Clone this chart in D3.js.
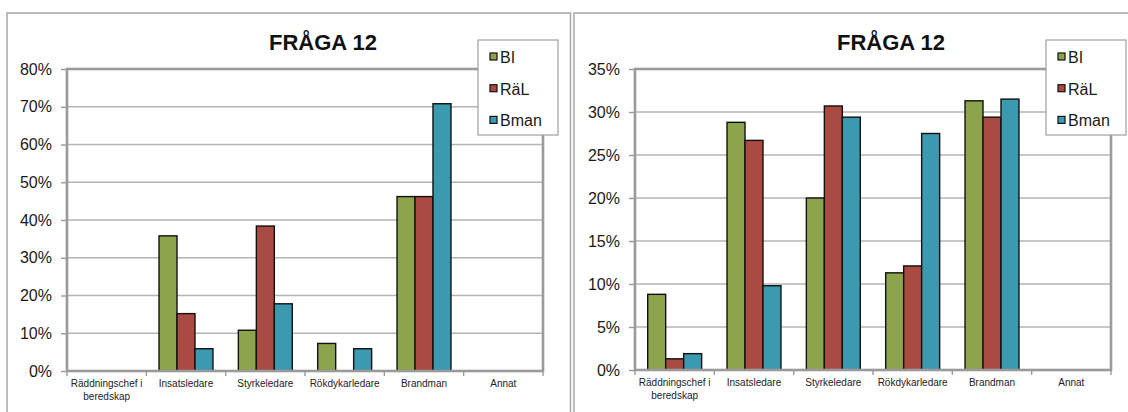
<!DOCTYPE html>
<html>
<head>
<meta charset="utf-8">
<script src="https://cdn.jsdelivr.net/npm/d3@7"></script>
<style>
  html, body { margin: 0; padding: 0; background: #fff; }
  svg { display: block; font-family: "Liberation Sans", Arial, sans-serif; }
</style>
</head>
<body>
<svg id="chart" width="1128" height="412"></svg>
<script>
// ---- data ----
const categories = ["Räddningschef i\nberedskap", "Insatsledare", "Styrkeledare", "Rökdykarledare", "Brandman", "Annat"];
const seriesNames = ["BI", "RäL", "Bman"];
const seriesColors = ["#8ca44c", "#a94a43", "#3b99b0"];
const chartTitle = "FRÅGA 12";

// left chart values (%)
const leftBI   = [0, 35.8, 10.8, 7.3, 46.2, 0];
const leftRaL  = [0, 15.2, 38.4, 0, 46.2, 0];
const leftBman = [0, 5.9, 17.8, 5.9, 70.8, 0];
const leftTicks = [0, 10, 20, 30, 40, 50, 60, 70, 80];

// right chart values (%)
const rightBI   = [8.8, 28.8, 20.0, 11.3, 31.3, 0];
const rightRaL  = [1.3, 26.7, 30.7, 12.1, 29.4, 0];
const rightBman = [1.9, 9.8, 29.4, 27.5, 31.5, 0];
const rightTicks = [0, 5, 10, 15, 20, 25, 30, 35];

const svg = d3.select("#chart");

// panel frames
svg.append("path").attr("d", "M7,412V13H570.5V412")
  .attr("fill", "none").attr("stroke", "#a6a6a6").attr("stroke-width", 1.5);
svg.append("path").attr("d", "M574,412V13H1128")
  .attr("fill", "none").attr("stroke", "#a6a6a6").attr("stroke-width", 1.5);

function drawChart(opts) {
  const { left, right, top, bottom, series, ticks } = opts;
  const g = svg.append("g");

  const x0 = d3.scaleBand().domain(categories).range([left, right])
    .paddingInner(0.32).paddingOuter(0.16);
  const x1 = d3.scaleBand().domain(seriesNames).range([0, x0.bandwidth()]);
  const y = d3.scaleLinear().domain([0, d3.max(ticks)]).range([bottom, top]);
  const step = x0.step();

  // gridlines
  g.append("g").selectAll("line").data(ticks.slice(1, -1)).join("line")
    .attr("x1", left).attr("x2", right)
    .attr("y1", d => y(d)).attr("y2", d => y(d))
    .attr("stroke", "#b4b4b4").attr("stroke-width", 1.4);

  // y axis
  const yAxis = g.append("g").attr("transform", `translate(${left},0)`)
    .call(d3.axisLeft(y).tickValues(ticks).tickSize(6).tickPadding(9)
      .tickFormat(d => d + "%"));
  yAxis.select(".domain").remove();
  yAxis.selectAll(".tick line").attr("stroke", "#999").attr("stroke-width", 1.4);
  yAxis.selectAll(".tick text").attr("font-size", 16).attr("fill", "#1a1a1a")
    .attr("font-family", "Liberation Sans, Arial, sans-serif");

  // x axis boundary ticks
  const bounds = categories.map(c => x0(c) - x0.paddingOuter() * step).concat([right]);
  g.append("g").selectAll("line").data(bounds).join("line")
    .attr("x1", d => d).attr("x2", d => d)
    .attr("y1", bottom).attr("y2", bottom + 5)
    .attr("stroke", "#999").attr("stroke-width", 1.4);

  // x labels
  const xl = g.append("g").selectAll("text").data(categories).join("text")
    .attr("x", d => x0(d) + x0.bandwidth() / 2)
    .attr("y", bottom + 16)
    .attr("text-anchor", "middle")
    .attr("font-size", 10).attr("fill", "#222");
  xl.each(function(d) {
    const lines = d.split("\n");
    d3.select(this).selectAll("tspan").data(lines).join("tspan")
      .attr("x", x0(d) + x0.bandwidth() / 2)
      .attr("dy", (l, i) => i === 0 ? 0 : 13)
      .text(l => l);
  });

  // bars
  const rows = [];
  categories.forEach((c, ci) => {
    seriesNames.forEach((s, si) => {
      rows.push({ c, s, si, v: series[si][ci] });
    });
  });
  g.append("g").selectAll("rect").data(rows.filter(r => r.v > 0)).join("rect")
    .attr("x", d => x0(d.c) + x1(d.s))
    .attr("y", d => y(d.v))
    .attr("width", x1.bandwidth())
    .attr("height", d => y(0) - y(d.v))
    .attr("fill", d => seriesColors[d.si])
    .attr("stroke", "#111").attr("stroke-width", 1.4);

  // plot border
  g.append("rect").attr("x", left).attr("y", top)
    .attr("width", right - left).attr("height", bottom - top)
    .attr("fill", "none").attr("stroke", "#9a9a9a").attr("stroke-width", 2.6);

  // title
  g.append("text").attr("x", (left + right) / 2 + 18).attr("y", 50)
    .attr("text-anchor", "middle").attr("font-size", 22).attr("font-weight", "bold")
    .attr("fill", "#111").text(chartTitle);

  // legend
  const lx = right - 65, ly = 40;
  const lg = g.append("g");
  lg.append("rect").attr("x", lx).attr("y", ly).attr("width", 80).attr("height", 95)
    .attr("fill", "#fff").attr("stroke", "#a0a0a0").attr("stroke-width", 1.2);
  seriesNames.forEach((s, i) => {
    const cy = ly + 17 + i * 31.7;
    lg.append("rect").attr("x", lx + 12).attr("y", cy - 4).attr("width", 7).attr("height", 7)
      .attr("fill", seriesColors[i]).attr("stroke", "#111").attr("stroke-width", 1.2);
    lg.append("text").attr("x", lx + 22).attr("y", cy + 6)
      .attr("font-size", 16).attr("fill", "#1a1a1a").text(s);
  });
}

drawChart({ left: 67, right: 543, top: 69, bottom: 371,
  series: [leftBI, leftRaL, leftBman], ticks: leftTicks });
drawChart({ left: 635, right: 1111, top: 69, bottom: 370,
  series: [rightBI, rightRaL, rightBman], ticks: rightTicks });
</script>
</body>
</html>
